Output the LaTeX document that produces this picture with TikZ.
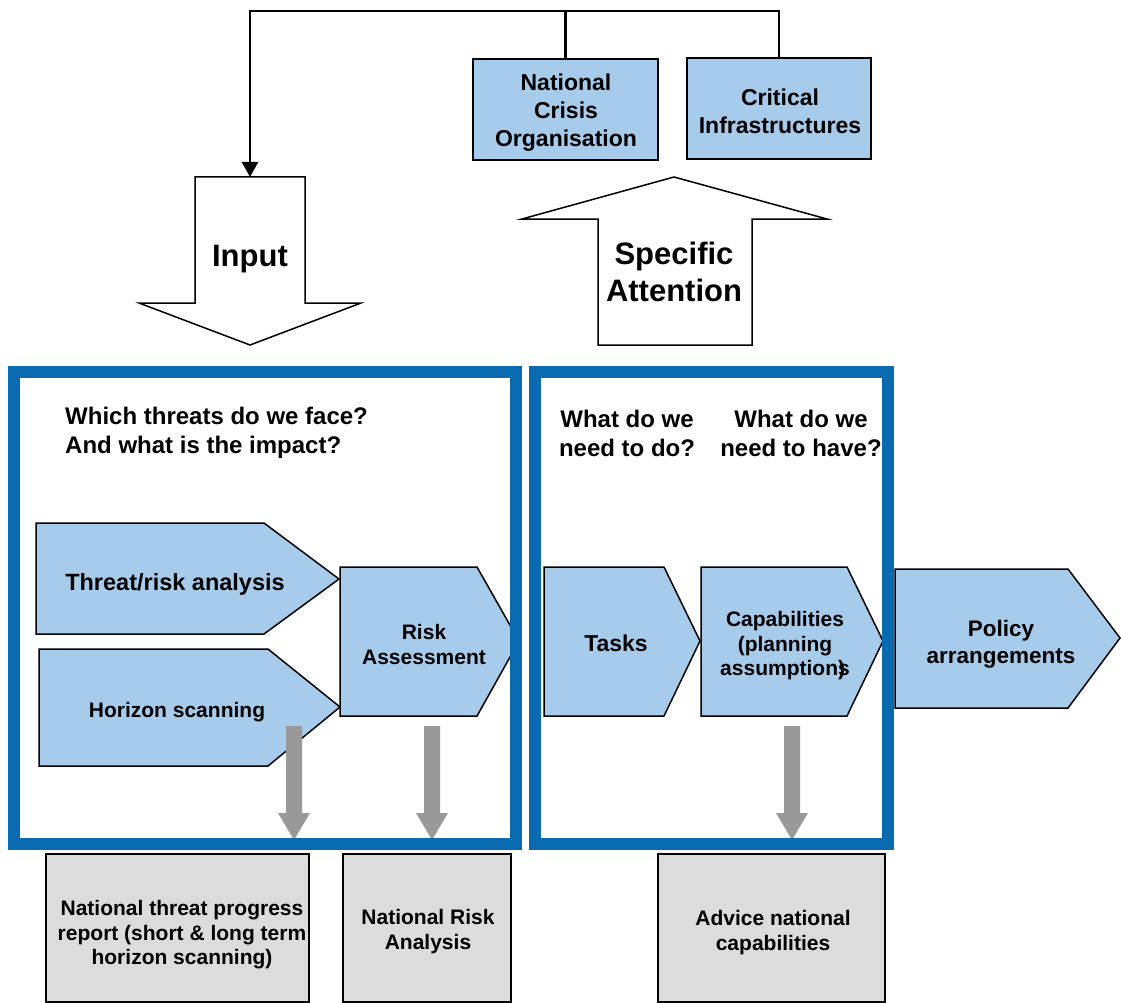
\documentclass[tikz,border=0pt]{standalone}
\usepackage{fontspec}
\setmainfont{Liberation Sans}
\usetikzlibrary{arrows.meta}
\definecolor{paleblue}{RGB}{167,203,235}
\definecolor{frameblue}{RGB}{10,106,176}
\definecolor{arrowgray}{RGB}{153,153,153}
\definecolor{boxgray}{RGB}{220,220,220}
\newcommand\txtsize[2]{\bfseries\fontsize{#1}{#2}\selectfont}
\begin{document}
\begin{tikzpicture}[x=1pt,y=-1pt,
  lbl/.style={align=center,inner sep=0pt},
  chev/.style={draw=black,line width=1.5pt,fill=paleblue,line join=miter},
  bigarrow/.style={draw=black,line width=1.5pt,fill=white},
  frame/.style={draw=frameblue,line width=12pt},
  orgbox/.style={draw=black,line width=2pt,fill=paleblue,inner sep=0pt,align=center},
  outbox/.style={draw=black,line width=2pt,fill=boxgray,inner sep=0pt,
    minimum height=148pt},
  conn/.style={line width=2.5pt},
  fatdown/.pic={\fill[arrowgray] (-8,0) -- (8,0) -- (8,87) -- (16,87) -- (0,114)
    -- (-16,87) -- (-8,87) -- cycle;}]
\useasboundingbox (0,0) rectangle (1121,1003);

% organisations at the top
\node[orgbox,minimum width=185pt,minimum height=101pt] (nco) at (565.5,109.5) {};
\node[lbl,font=\txtsize{23}{28}] (ncotext) at (566,112.5)
  {National\\Crisis\\Organisation};
\node[orgbox,minimum width=184pt,minimum height=101pt] (ci) at (779,108.5) {};
\node[lbl,font=\txtsize{23}{28}] (citext) at (780,111.5)
  {Critical\\Infrastructures};

% input and attention arrows
\draw[bigarrow] (195,177) -- (305,177) -- (305,303) -- (361,303) -- (250,345)
  -- (139,303) -- (195,303) -- cycle;
\coordinate (intop) at (250,177);
\node[lbl,font=\txtsize{31}{37}] (input) at (250,259) {Input};
\draw[bigarrow] (598,345) -- (598,219) -- (522,219) -- (674,177) -- (827,219)
  -- (752,219) -- (752,345) -- cycle;
\node[lbl,font=\txtsize{31}{37}] (attn) at (674,272) {Specific\\Attention};

% feedback line from the organisations to the input
\coordinate (topleft) at (250,11);
\draw[conn] (nco.north) -- (nco.north |- topleft);
\draw[conn,-{Triangle[length=15pt,width=16pt]}] (ci.north) |- (topleft) -- (intop);

% process steps
\draw[chev] (36,523) -- (264,523) -- (339,579) -- (264,634) -- (36,634) -- cycle;
\node[lbl,font=\txtsize{23.5}{28}] (threat) at (175,584) {Threat/risk analysis};
\draw[chev] (39,649) -- (268,649) -- (340,707) -- (268,766) -- (39,766) -- cycle;
\node[lbl,font=\txtsize{21}{25}] (horizon) at (177,712) {Horizon scanning};
\draw[chev] (340,567) -- (477,567) -- (519,641) -- (477,716) -- (340,716) -- cycle;
\node[lbl,font=\txtsize{21}{25}] (risk) at (424,644) {Risk\\Assessment};
\draw[chev] (544,567) -- (664,567) -- (700,641) -- (664,716) -- (544,716) -- cycle;
\node[lbl,font=\txtsize{23}{28}] (tasks) at (616,643) {Tasks};
\draw[chev] (701,567) -- (847,567) -- (883,641) -- (847,716) -- (701,716) -- cycle;
\node[lbl,font=\txtsize{21}{24.5}] (capab) at (785,646)
  {Capabilities\\(planning\\assumption\rlap{)}s};
\draw[chev] (895,569) -- (1068,569) -- (1120,638) -- (1068,708) -- (895,708) -- cycle;
\node[lbl,font=\txtsize{22.5}{27}] (policy) at (1001,644) {Policy\\arrangements};

% outputs
\coordinate (g1) at (294,726);
\coordinate (g2) at (432,726);
\coordinate (g3) at (792,726);
\pic at (g1) {fatdown};
\pic at (g2) {fatdown};
\pic at (g3) {fatdown};

% framed phases
\node[frame,minimum width=502pt,minimum height=472pt,inner sep=0pt] (phase1) at (265,608) {};
\node[frame,minimum width=353pt,minimum height=472pt,inner sep=0pt] (phase2) at (711,608) {};

\node[lbl,align=left,anchor=west,font=\txtsize{24}{29}] (q1) at (65,433)
  {Which threats do we face?\\And what is the impact?};
\node[lbl,font=\txtsize{24}{29}] (q2) at (627,433) {What do we\\need to do?};
\node[lbl,font=\txtsize{24}{29}] (q3) at (801,433) {What do we\\need to have?};

% output documents
\node[outbox,minimum width=263pt] (rep) at (177.5,928) {};
\node[lbl,font=\txtsize{21}{24.5}] (reptext) at (182,935)
  {National threat progress\\report (short \& long term\\horizon scanning)};
\node[outbox,minimum width=168pt] (nra) at (427,928) {};
\node[lbl,font=\txtsize{21}{25}] (nratext) at (428,932) {National Risk\\Analysis};
\node[outbox,minimum width=227pt] (adv) at (771.5,928) {};
\node[lbl,font=\txtsize{21}{25}] (advtext) at (773,933) {Advice national\\capabilities};
\end{tikzpicture}
\end{document}
